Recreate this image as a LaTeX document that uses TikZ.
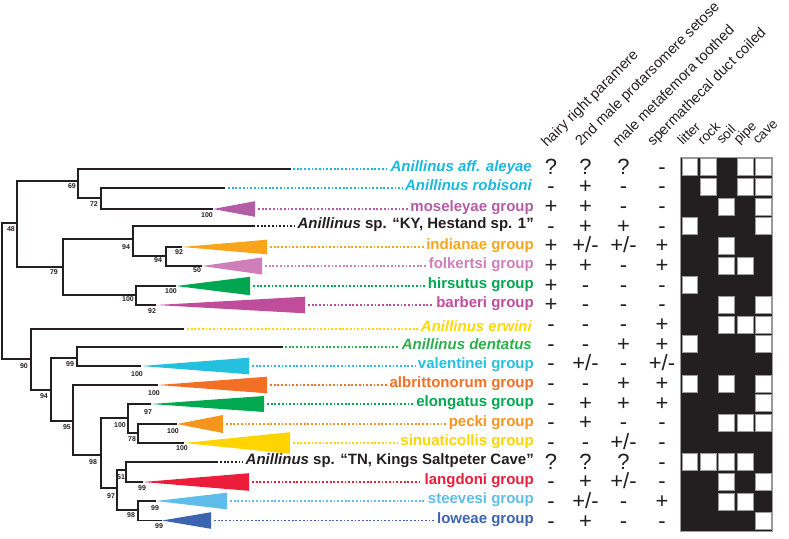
\documentclass[tikz,border=0pt]{standalone}
\usepackage{fontspec}
\setmainfont{Liberation Sans}
\definecolor{treec}{HTML}{231F20}
\definecolor{cyA}{HTML}{1BB7DD}
\definecolor{mos}{HTML}{B45CA6}
\definecolor{ind}{HTML}{F9A51B}
\definecolor{folk}{HTML}{D07EBA}
\definecolor{hirs}{HTML}{00A651}
\definecolor{barb}{HTML}{C04C9C}
\definecolor{erw}{HTML}{FFD900}
\definecolor{dent}{HTML}{2AB04A}
\definecolor{val}{HTML}{25C0DF}
\definecolor{albr}{HTML}{F26F26}
\definecolor{elong}{HTML}{00A84F}
\definecolor{peck}{HTML}{F7941E}
\definecolor{sinu}{HTML}{FFD400}
\definecolor{lang}{HTML}{EC1C3B}
\definecolor{stee}{HTML}{5EBDEB}
\definecolor{lowe}{HTML}{3C63AE}
\newcommand\pmm{+/-}
\begin{document}
\begin{tikzpicture}[x=1pt,y=-1pt,
  br/.style={line width=1.4pt, draw=treec},
  supp/.style={font=\bfseries\fontsize{7}{8}\selectfont, text=treec, inner sep=0},
  lab/.style={font=\bfseries\fontsize{15}{17}\selectfont, anchor=mid east, inner sep=0},
  dots/.style={line width=1.8pt, dash pattern=on 1.8pt off 1.9pt, shorten >=2.5pt},
  sym/.style={font=\fontsize{22}{24}\selectfont, anchor=base, inner sep=0, text=treec},
  hdr/.style={font=\fontsize{14.5}{16}\selectfont, rotate=45, anchor=base west, inner sep=0, text=treec},
  hab/.style={font=\fontsize{13.5}{15}\selectfont, rotate=45, anchor=base west, inner sep=0, text=treec},
  cellw/.style={fill=white, draw=gray!80, line width=0.8pt}]
\useasboundingbox (0,0) rectangle (789,538);

% ---------- tree coordinates ----------
\coordinate (root) at (2,291);
\coordinate (n48) at (17,223);
\coordinate (n69) at (78,181);
\coordinate (n72) at (101,198);
\coordinate (n79) at (63,267);
\coordinate (n94a) at (133,239);
\coordinate (n94b) at (166,256);
\coordinate (n100a) at (136,295);
\coordinate (n90) at (31,359);
\coordinate (n94c) at (51,390);
\coordinate (n99a) at (77,358);
\coordinate (n95) at (73,421);
\coordinate (n98a) at (101,455);
\coordinate (n100b) at (128,418);
\coordinate (n78) at (138,433);
\coordinate (n97) at (117,488);
\coordinate (n51) at (126,470);
\coordinate (n98b) at (138,510);
% terminals (branch ends / triangle apices)
\coordinate (t1) at (291,169);
\coordinate (t2) at (225,188);
\coordinate (a3) at (213,209);
\coordinate (t4) at (255,226);
\coordinate (a5) at (182,247);
\coordinate (a6) at (202,266);
\coordinate (a7) at (176,286);
\coordinate (a8) at (156,305);
\coordinate (t9) at (184,329);
\coordinate (t10) at (283,347);
\coordinate (a11) at (141,366);
\coordinate (a12) at (158,385);
\coordinate (a13) at (151,404);
\coordinate (a14) at (177,424);
\coordinate (a15) at (184,443);
\coordinate (t16) at (218,462);
\coordinate (a17) at (143,482);
\coordinate (a18) at (156,501);
\coordinate (a19) at (162,520.5);

% ---------- branches ----------
\draw[br, line width=2.2pt] (root) |- (n48);
\draw[br, line width=2.2pt] (root) |- (n90);
\draw[br] (n48) |- (n69);  \draw[br] (n48) |- (n79);
\draw[br] (n69) |- (t1);   \draw[br] (n69) |- (n72);
\draw[br] (n72) |- (t2);   \draw[br] (n72) |- (a3);
\draw[br] (n79) |- (n94a); \draw[br] (n79) |- (n100a);
\draw[br] (n94a) |- (t4);  \draw[br] (n94a) |- (n94b);
\draw[br] (n94b) |- (a5);  \draw[br] (n94b) |- (a6);
\draw[br] (n100a) |- (a7); \draw[br] (n100a) |- (a8);
\draw[br] (n90) |- (t9);   \draw[br] (n90) |- (n94c);
\draw[br] (n94c) |- (n99a); \draw[br] (n94c) |- (n95);
\draw[br] (n99a) |- (t10); \draw[br] (n99a) |- (a11);
\draw[br] (n95) |- (a12);  \draw[br] (n95) |- (n98a);
\draw[br] (n98a) |- (n100b); \draw[br] (n98a) |- (n97);
\draw[br] (n100b) |- (a13); \draw[br] (n100b) |- (n78);
\draw[br] (n78) |- (a14);  \draw[br] (n78) |- (a15);
\draw[br] (n97) |- (n51);  \draw[br] (n97) |- (n98b);
\draw[br] (n51) |- (t16);  \draw[br] (n51) |- (a17);
\draw[br] (n98b) |- (a18); \draw[br] (n98b) |- (a19);

% ---------- collapsed clades (triangles) ----------
\fill[mos]   (a3)  -- (255,201.2) -- (255,216.8) -- cycle;
\fill[ind]   (a5)  -- (267,239.7) -- (267,254.3) -- cycle;
\fill[folk]  (a6)  -- (262,257.5) -- (262,274.5) -- cycle;
\fill[hirs]  (a7)  -- (250,276.8) -- (250,295.2) -- cycle;
\fill[barb]  (a8)  -- (305,296.7) -- (305,313.3) -- cycle;
\fill[val]   (a11) -- (249,357.7) -- (249,374.3) -- cycle;
\fill[albr]  (a12) -- (267,376.7) -- (267,393.3) -- cycle;
\fill[elong] (a13) -- (264,396) -- (264,412) -- cycle;
\fill[peck]  (a14) -- (223,415) -- (223,433) -- cycle;
\fill[sinu]  (a15) -- (290,432.2) -- (290,453.8) -- cycle;
\fill[lang]  (a17) -- (249,473.2) -- (249,490.8) -- cycle;
\fill[stee]  (a18) -- (227,492.7) -- (227,509.3) -- cycle;
\fill[lowe]  (a19) -- (211,512.2) -- (211,528.8) -- cycle;

% dotted line starts
\coordinate (e1) at (293,169);
\coordinate (e2) at (228,188);
\coordinate (e3) at (258,209);
\coordinate (e4) at (257,226);
\coordinate (e5) at (270,247);
\coordinate (e6) at (265,266);
\coordinate (e7) at (253,286);
\coordinate (e8) at (308,305);
\coordinate (e9) at (187,329);
\coordinate (e10) at (285,347);
\coordinate (e11) at (252,366);
\coordinate (e12) at (270,385);
\coordinate (e13) at (267,404);
\coordinate (e14) at (226,424);
\coordinate (e15) at (293,443);
\coordinate (e16) at (220,462);
\coordinate (e17) at (252,482);
\coordinate (e18) at (230,501);
\coordinate (e19) at (214,520.5);

% ---------- labels ----------
\node[lab, text=cyA]   (L1)  at (532,169) {\itshape Anillinus aff. aleyae};
\node[lab, text=cyA]   (L2)  at (532,188) {\itshape Anillinus robisoni};
\node[lab, text=mos]   (L3)  at (534,209) {moseleyae group};
\node[lab, text=treec] (L4)  at (534,226) {\textit{Anillinus} sp. “KY, Hestand sp. 1”};
\node[lab, text=ind]   (L5)  at (534,247) {indianae group};
\node[lab, text=folk]  (L6)  at (534,266) {folkertsi group};
\node[lab, text=hirs]  (L7)  at (534,286) {hirsutus group};
\node[lab, text=barb]  (L8)  at (534,305) {barberi group};
\node[lab, text=erw]   (L9)  at (532,329) {\itshape Anillinus erwini};
\node[lab, text=dent]  (L10) at (532,347) {\itshape Anillinus dentatus};
\node[lab, text=val]   (L11) at (534,366) {valentinei group};
\node[lab, text=albr]  (L12) at (534,385) {albrittonorum group};
\node[lab, text=elong] (L13) at (534,404) {elongatus group};
\node[lab, text=peck]  (L14) at (534,424) {pecki group};
\node[lab, text=sinu]  (L15) at (534,443) {sinuaticollis group};
\node[lab, text=treec] (L16) at (534,462) {\textit{Anillinus} sp. “TN, Kings Saltpeter Cave”};
\node[lab, text=lang]  (L17) at (534,482) {langdoni group};
\node[lab, text=stee]  (L18) at (534,501) {steevesi group};
\node[lab, text=lowe]  (L19) at (534,520.5) {loweae group};

% ---------- dotted connectors ----------
\draw[dots, cyA]   (e1)  -- (L1.mid west);
\draw[dots, cyA]   (e2)  -- (L2.mid west);
\draw[dots, mos]   (e3)  -- (L3.mid west);
\draw[dots, treec] (e4)  -- (L4.mid west);
\draw[dots, ind]   (e5)  -- (L5.mid west);
\draw[dots, folk]  (e6)  -- (L6.mid west);
\draw[dots, hirs]  (e7)  -- (L7.mid west);
\draw[dots, barb]  (e8)  -- (L8.mid west);
\draw[dots, erw]   (e9)  -- (L9.mid west);
\draw[dots, dent]  (e10) -- (L10.mid west);
\draw[dots, val]   (e11) -- (L11.mid west);
\draw[dots, albr]  (e12) -- (L12.mid west);
\draw[dots, elong] (e13) -- (L13.mid west);
\draw[dots, peck]  (e14) -- (L14.mid west);
\draw[dots, sinu]  (e15) -- (L15.mid west);
\draw[dots, treec] (e16) -- (L16.mid west);
\draw[dots, lang]  (e17) -- (L17.mid west);
\draw[dots, stee]  (e18) -- (L18.mid west);
\draw[dots, lowe]  (e19) -- (L19.mid west);

% ---------- support values ----------
\node[supp] (s48) at (11,229) {48};
\node[supp] (s69) at (72,186) {69};
\node[supp] (s72) at (94,204) {72};
\node[supp] (s3) at (207,215) {100};
\node[supp] (s94a) at (126,247) {94};
\node[supp] (s94b) at (158,260) {94};
\node[supp] (s5) at (179,252) {92};
\node[supp] (s6) at (197,270) {50};
\node[supp] (s79) at (54,272) {79};
\node[supp] (s100a) at (128,299) {100};
\node[supp] (s7) at (171,291) {100};
\node[supp] (s8) at (152,311) {92};
\node[supp] (s90) at (24,366) {90};
\node[supp] (s94c) at (44,396) {94};
\node[supp] (s99a) at (70,364) {99};
\node[supp] (s11) at (137,374) {100};
\node[supp] (s95) at (67,427) {95};
\node[supp] (s12) at (154,393) {100};
\node[supp] (s98a) at (93,462) {98};
\node[supp] (s100b) at (120,425) {100};
\node[supp] (s13) at (148,412) {97};
\node[supp] (s78) at (132,439) {78};
\node[supp] (s14) at (173,431) {100};
\node[supp] (s15) at (182,448) {100};
\node[supp] (s97) at (111,496) {97};
\node[supp] (s51) at (121,477) {51};
\node[supp] (s17) at (142,488) {99};
\node[supp] (s98b) at (131,515) {98};
\node[supp] (s18) at (155,508) {99};
\node[supp] (s19) at (159,526) {99};

% ---------- column headers ----------
\node[hdr] (h1) at (547,148) {hairy right paramere};
\node[hdr] (h2) at (581,147) {2nd male protarsomere setose};
\node[hdr] (h3) at (618,148) {male metafemora toothed};
\node[hdr] (h4) at (653,147) {spermathecal duct coiled};
\node[hab] (h5) at (683,146) {litter};
\node[hab] (h6) at (703,146) {rock};
\node[hab] (h7) at (722,145) {soil};
\node[hab] (h8) at (739,145) {pipe};
\node[hab] (h9) at (758,145) {cave};

% ---------- character states ----------
\foreach \r/\a/\b/\c/\d in {1/?/?/?/-, 2/-/+/-/-, 3/+/+/-/-, 4/-/+/+/-,
  5/+/\pmm/\pmm/+, 6/+/+/-/+, 7/+/-/-/-, 8/+/-/-/-, 9/-/-/-/+, 10/-/-/+/+,
  11/-/\pmm/-/\pmm, 12/-/-/+/+, 13/-/+/+/+, 14/-/+/-/-, 15/-/-/\pmm/-,
  16/?/?/?/-, 17/-/+/\pmm/-, 18/-/\pmm/-/+, 19/-/+/-/-}{
  \node[sym] (c\r a) at (551,{157.3+19.67*(\r-0.5)+7}) {\a};
  \node[sym] (c\r b) at (585.5,{157.3+19.67*(\r-0.5)+7}) {\b};
  \node[sym] (c\r c) at (623.5,{157.3+19.67*(\r-0.5)+7}) {\c};
  \node[sym] (c\r d) at (662,{157.3+19.67*(\r-0.5)+7}) {\d};
}

% ---------- habitat matrix ----------
\fill[treec] (680.7,157.3) rectangle (772.7,531);
\foreach \r/\c in {1/1,1/2,1/4,1/5, 2/2,2/4,2/5, 3/3,3/5, 4/1,4/5, 5/3,
  6/3,6/4, 7/1, 8/3,8/5, 9/3,9/4,9/5, 10/1,10/5, 12/1,12/3,12/5, 13/5,
  14/3,14/4,14/5, 16/1,16/2,16/3,16/4, 17/3,17/5, 18/3,18/4, 19/5}{
  \draw[cellw] ({680.7+18.4*(\c-1)+1.3},{157.3+19.67*(\r-1)+1.3}) rectangle ++(15.8,17.07);
}
\draw[gray!80, line width=1pt] (680.7,157.3) rectangle (772.7,531);
\end{tikzpicture}
\end{document}
